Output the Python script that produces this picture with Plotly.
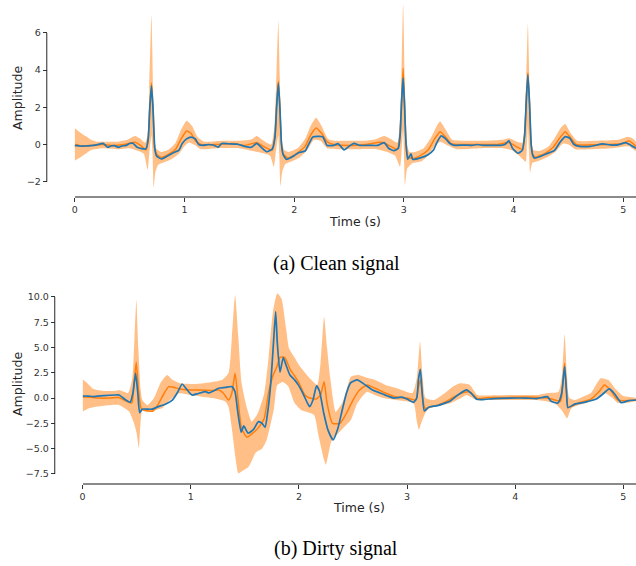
import plotly.graph_objects as go

# ---------------- (a) Clean signal ----------------
T_BLUE_A = [0.00, 0.05, 0.10, 0.15, 0.20, 0.26, 0.30, 0.33, 0.36, 0.40, 0.43, 0.47, 0.50, 0.53, 0.57, 0.61, 0.65,
            0.67, 0.685, 0.70, 0.715, 0.73, 0.745, 0.79, 0.85, 0.90, 0.95, 0.98, 1.02, 1.06, 1.10, 1.13, 1.17,
            1.22, 1.26, 1.31, 1.34, 1.40, 1.48, 1.55, 1.61, 1.66, 1.70, 1.75, 1.80, 1.825, 1.84, 1.856, 1.87,
            1.885, 1.90, 1.93, 2.00, 2.04, 2.10, 2.14, 2.17, 2.26, 2.30, 2.36, 2.40, 2.455, 2.50, 2.545, 2.60,
            2.70, 2.76, 2.82, 2.86, 2.91, 2.95, 2.965, 2.98, 2.993, 3.005, 3.02, 3.035, 3.065, 3.08, 3.15, 3.22,
            3.27, 3.30, 3.34, 3.38, 3.42, 3.46, 3.55, 3.62, 3.67, 3.72, 3.80, 3.88, 3.92, 3.957, 3.99, 4.04,
            4.08, 4.10, 4.115, 4.13, 4.145, 4.16, 4.175, 4.19, 4.24, 4.30, 4.37, 4.42, 4.47, 4.51, 4.55, 4.60,
            4.70, 4.81, 4.88, 4.95, 5.02, 5.07, 5.115]
BLUE_A = [-0.05, -0.08, -0.08, -0.06, -0.02, 0.06, -0.15, -0.08, -0.06, -0.15, -0.08, -0.05, 0.05, 0.07, -0.15,
          -0.22, -0.22, 0.3, 2.0, 3.15, 1.8, -0.2, -0.6, -0.78, -0.6, -0.45, -0.3, 0.05, 0.3, 0.4, 0.3, 0.0,
          -0.05, 0.0, -0.03, -0.14, 0.05, 0.04, 0.02, -0.1, -0.15, 0.06, -0.15, -0.39, -0.25, 0.4, 2.0, 3.29,
          2.0, 0.0, -0.55, -0.8, -0.6, -0.44, -0.35, 0.1, 0.4, 0.42, -0.05, -0.05, 0.05, -0.29, -0.1, 0.06,
          -0.05, -0.05, -0.05, 0.1, -0.2, -0.33, -0.2, 0.5, 2.4, 3.57, 2.2, 0.0, -0.8, -0.5, -0.8, -0.72,
          -0.55, -0.3, 0.1, 0.46, 0.3, 0.05, -0.05, -0.03, -0.05, 0.0, -0.05, -0.05, -0.05, 0.0, 0.2, -0.2,
          -0.47, -0.3, 0.5, 2.3, 3.74, 2.2, 0.0, -0.6, -0.74, -0.65, -0.5, -0.33, 0.1, 0.42, 0.35, 0.0, -0.1,
          -0.1, 0.03, -0.02, -0.02, 0.1, -0.05, -0.2]

T_MEAN_A = [0.00, 0.02, 0.05, 0.15, 0.25, 0.35, 0.45, 0.55, 0.60, 0.65, 0.67, 0.685, 0.70, 0.715, 0.73, 0.75,
            0.79, 0.85, 0.92, 0.97, 1.02, 1.06, 1.10, 1.15, 1.30, 1.45, 1.55, 1.66, 1.72, 1.80, 1.825, 1.84,
            1.856, 1.87, 1.885, 1.90, 1.94, 2.02, 2.10, 2.15, 2.20, 2.25, 2.30, 2.36, 2.50, 2.65, 2.80, 2.88,
            2.94, 2.965, 2.98, 2.993, 3.005, 3.02, 3.035, 3.08, 3.15, 3.22, 3.28, 3.33, 3.38, 3.43, 3.50, 3.70,
            3.85, 3.96, 4.02, 4.08, 4.10, 4.115, 4.13, 4.145, 4.16, 4.175, 4.20, 4.28, 4.36, 4.42, 4.47, 4.52,
            4.57, 4.70, 4.85, 5.00, 5.05, 5.115]
MEAN_A = [-0.1, 0.0, -0.08, -0.05, 0.0, -0.05, 0.0, 0.12, -0.05, -0.3, 0.3, 2.0, 3.3, 1.8, -0.2, -0.55, -0.7,
          -0.55, -0.25, 0.3, 0.73, 0.6, 0.2, 0.0, 0.0, 0.05, -0.05, 0.1, -0.1, -0.3, 0.4, 2.0, 3.4, 2.0, 0.0,
          -0.5, -0.72, -0.5, -0.1, 0.5, 0.89, 0.6, 0.15, 0.0, -0.05, 0.0, 0.12, -0.1, -0.25, 0.5, 2.5, 4.1,
          2.4, 0.0, -0.65, -0.75, -0.6, -0.3, 0.3, 0.69, 0.4, 0.05, 0.0, 0.0, 0.0, 0.1, -0.1, -0.25, 0.5, 2.4,
          3.86, 2.2, 0.0, -0.55, -0.68, -0.5, -0.15, 0.35, 0.69, 0.35, 0.0, -0.02, 0.0, 0.05, 0.2, -0.1]

T_UP_A = [0.00, 0.05, 0.10, 0.15, 0.20, 0.30, 0.40, 0.48, 0.55, 0.60, 0.64, 0.665, 0.68, 0.70, 0.715, 0.725,
          0.74, 0.79, 0.86, 0.92, 0.97, 1.02, 1.07, 1.12, 1.18, 1.35, 1.50, 1.60, 1.66, 1.72, 1.79, 1.82, 1.84,
          1.856, 1.87, 1.885, 1.91, 1.95, 2.03, 2.10, 2.15, 2.20, 2.25, 2.31, 2.37, 2.50, 2.65, 2.75, 2.82,
          2.88, 2.94, 2.97, 2.993, 3.01, 3.025, 3.05, 3.10, 3.18, 3.25, 3.30, 3.33, 3.38, 3.44, 3.55, 3.75,
          3.90, 3.96, 4.03, 4.08, 4.11, 4.13, 4.145, 4.16, 4.18, 4.24, 4.32, 4.38, 4.43, 4.47, 4.52, 4.58,
          4.75, 4.95, 5.04, 5.08, 5.115]
UP_A = [0.88, 0.65, 0.45, 0.25, 0.15, 0.15, 0.15, 0.25, 0.45, 0.3, 0.1, 0.5, 3.0, 6.96, 3.0, 0.5, -0.2, -0.4,
        -0.25, 0.1, 0.8, 1.28, 1.0, 0.4, 0.15, 0.2, 0.2, 0.25, 0.45, 0.2, 0.0, 1.0, 4.0, 6.64, 3.5, 0.3, -0.3,
        -0.4, -0.2, 0.3, 1.0, 1.44, 1.0, 0.3, 0.2, 0.2, 0.2, 0.3, 0.46, 0.3, 0.1, 2.0, 7.54, 3.0, 0.2, -0.4,
        -0.4, -0.2, 0.4, 1.0, 1.23, 0.8, 0.25, 0.2, 0.2, 0.25, 0.33, 0.15, 0.1, 2.5, 6.48, 3.0, 0.3, -0.3,
        -0.35, -0.1, 0.4, 0.9, 1.1, 0.6, 0.2, 0.2, 0.25, 0.42, 0.35, 0.15]

T_LO_A = [0.00, 0.05, 0.10, 0.15, 0.25, 0.40, 0.50, 0.58, 0.63, 0.665, 0.68, 0.70, 0.71, 0.72, 0.735, 0.76,
          0.80, 0.88, 0.95, 1.00, 1.04, 1.10, 1.15, 1.30, 1.50, 1.62, 1.70, 1.78, 1.815, 1.835, 1.856, 1.865,
          1.875, 1.89, 1.92, 1.98, 2.05, 2.12, 2.18, 2.24, 2.30, 2.40, 2.60, 2.75, 2.85, 2.92, 2.965, 2.98,
          2.993, 3.00, 3.01, 3.03, 3.08, 3.16, 3.22, 3.28, 3.33, 3.40, 3.48, 3.70, 3.90, 3.98, 4.05, 4.11,
          4.12, 4.13, 4.14, 4.15, 4.17, 4.22, 4.30, 4.38, 4.45, 4.50, 4.56, 4.70, 4.90, 5.05, 5.115]
LO_A = [-0.87, -0.7, -0.5, -0.3, -0.2, -0.25, -0.2, -0.35, -0.5, -1.35, -0.5, 0.5, -0.5, -2.3, -1.5, -1.1,
        -1.0, -0.8, -0.5, -0.1, 0.1, -0.05, -0.25, -0.2, -0.2, -0.35, -0.45, -0.6, -1.19, -0.3, 0.5, -0.5,
        -2.23, -1.5, -1.05, -0.9, -0.7, -0.3, 0.25, 0.2, -0.2, -0.25, -0.25, -0.25, -0.4, -0.6, -1.2, -0.3,
        0.8, -0.3, -2.18, -1.3, -1.0, -0.9, -0.6, -0.1, 0.15, -0.05, -0.25, -0.2, -0.2, -0.3, -0.6, -0.92,
        -0.2, 1.0, -0.3, -1.52, -1.0, -0.9, -0.7, -0.4, 0.05, 0.0, -0.25, -0.25, -0.2, -0.1, -0.35]

# ---------------- (b) Dirty signal ----------------
T_BLUE_B = [0.00, 0.05, 0.10, 0.20, 0.30, 0.337, 0.40, 0.44, 0.465, 0.49, 0.51, 0.527, 0.55, 0.64, 0.70, 0.77,
            0.83, 0.88, 0.92, 0.96, 1.01, 1.07, 1.135, 1.17, 1.21, 1.258, 1.32, 1.38, 1.41, 1.43, 1.466, 1.49,
            1.53, 1.58, 1.626, 1.66, 1.687, 1.71, 1.74, 1.765, 1.785, 1.80, 1.825, 1.855, 1.88, 1.917, 1.96,
            1.994, 2.04, 2.08, 2.10, 2.13, 2.163, 2.19, 2.23, 2.27, 2.316, 2.36, 2.40, 2.44, 2.478, 2.54, 2.60,
            2.68, 2.75, 2.82, 2.877, 2.92, 2.954, 3.00, 3.06, 3.09, 3.105, 3.123, 3.14, 3.16, 3.20, 3.28, 3.35,
            3.40, 3.47, 3.55, 3.60, 3.644, 3.70, 3.80, 3.95, 4.10, 4.20, 4.297, 4.33, 4.395, 4.43, 4.457, 4.475,
            4.487, 4.55, 4.65, 4.75, 4.80, 4.87, 4.92, 4.98, 5.05, 5.117]
BLUE_B = [0.2, 0.2, 0.15, 0.25, 0.3, 0.3, -0.2, -0.42, 0.5, 2.45, 0.5, -1.44, -1.1, -1.1, -0.85, -0.58, -0.2,
          0.6, 1.39, 0.9, 0.3, 0.45, 0.63, 0.5, 0.7, 0.97, 1.05, 1.13, 0.6, -1.0, -3.38, -2.76, -3.48, -3.1,
          -2.33, -2.5, -2.89, -1.5, 1.5, 5.5, 8.55, 5.5, 2.55, 4.0, 3.3, 2.28, 1.8, 1.3, 0.4, -0.52, -0.85,
          -0.2, 1.2, 0.7, -1.5, -3.2, -4.14, -3.0, -1.2, 0.5, 1.5, 1.79, 1.4, 0.8, 0.5, 0.2, 0.0, 0.05, 0.1,
          -0.1, -0.42, 0.0, 1.8, 2.85, 0.5, -1.28, -0.91, -0.75, -0.5, -0.29, 0.3, 0.8, 0.4, -0.12, -0.15,
          -0.05, 0.0, 0.0, -0.05, 0.14, -0.3, -0.5, 0.5, 3.1, 0.5, -0.95, -0.6, -0.4, -0.1, 0.3, 0.9, 0.4,
          -0.45, -0.25, -0.19]

T_MEAN_B = [0.00, 0.05, 0.15, 0.25, 0.337, 0.40, 0.455, 0.475, 0.496, 0.515, 0.54, 0.57, 0.65, 0.70, 0.75,
            0.797, 0.90, 1.00, 1.10, 1.20, 1.26, 1.30, 1.35, 1.38, 1.41, 1.44, 1.47, 1.52, 1.57, 1.62, 1.68,
            1.718, 1.76, 1.80, 1.825, 1.87, 1.92, 1.96, 2.00, 2.055, 2.10, 2.16, 2.20, 2.233, 2.26, 2.31, 2.38,
            2.44, 2.50, 2.56, 2.63, 2.70, 2.80, 2.90, 3.00, 3.08, 3.10, 3.123, 3.145, 3.165, 3.25, 3.35, 3.45,
            3.52, 3.58, 3.65, 3.75, 3.90, 4.10, 4.30, 4.42, 4.44, 4.457, 4.475, 4.49, 4.58, 4.70, 4.78, 4.825,
            4.88, 4.95, 5.117]
MEAN_B = [0.1, 0.1, 0.0, 0.0, 0.05, -0.3, -0.5, 1.5, 3.54, 1.0, -1.0, -1.2, -1.28, -0.6, 0.4, 1.13, 0.9, 0.8,
          0.8, 0.75, 0.8, 0.5, -0.19, 0.5, 2.45, -0.5, -3.0, -3.88, -3.5, -3.0, -2.0, 0.47, 2.2, 3.2, 4.03, 4.0,
          2.8, 2.2, 1.5, 0.3, 0.0, -0.1, 0.3, 1.62, -0.5, -2.5, -2.5, -1.5, -0.2, 0.8, 1.3, 1.0, 0.5, 0.1, 0.0,
          -0.2, 0.8, 1.8, 0.0, -1.0, -0.8, -0.4, 0.2, 0.55, 0.6, -0.05, 0.05, 0.05, 0.1, 0.0, -0.3, 1.5, 3.44,
          0.5, -0.9, -0.5, -0.1, 0.7, 1.3, 0.8, -0.2, -0.2]

T_UP_B = [0.00, 0.05, 0.10, 0.20, 0.30, 0.337, 0.42, 0.46, 0.48, 0.497, 0.515, 0.535, 0.552, 0.60, 0.66, 0.72,
          0.782, 0.83, 0.90, 1.04, 1.20, 1.29, 1.35, 1.38, 1.41, 1.44, 1.47, 1.52, 1.564, 1.62, 1.68, 1.72,
          1.76, 1.80, 1.84, 1.88, 1.908, 1.96, 2.00, 2.10, 2.17, 2.20, 2.233, 2.26, 2.29, 2.34, 2.40, 2.44,
          2.48, 2.55, 2.63, 2.70, 2.80, 2.90, 3.05, 3.09, 3.12, 3.145, 3.17, 3.25, 3.35, 3.42, 3.49, 3.58,
          3.65, 3.75, 4.00, 4.20, 4.30, 4.40, 4.43, 4.457, 4.48, 4.50, 4.55, 4.62, 4.70, 4.79, 4.86, 4.92,
          5.00, 5.117]
UP_B = [1.86, 1.4, 0.9, 0.7, 0.7, 0.8, 0.5, 2.0, 6.0, 9.7, 5.0, 1.0, -0.19, -0.7, 0.0, 1.5, 2.28, 1.8, 1.46,
        1.39, 1.6, 1.79, 2.5, 6.0, 10.2, 6.0, 1.5, -1.0, -2.33, -1.5, 0.5, 4.0, 8.5, 10.36, 9.8, 7.0, 4.92,
        4.0, 3.27, 1.96, 1.3, 3.5, 8.05, 5.0, 2.0, -1.37, -0.5, 0.8, 2.1, 2.28, 2.0, 1.8, 1.3, 1.0, 0.5, 2.0,
        5.58, 2.0, 0.0, -0.2, 0.5, 1.1, 1.46, 1.3, 0.3, 0.25, 0.3, 0.3, 0.5, 0.6, 2.0, 6.3, 2.0, 0.0, -0.2,
        0.1, 0.5, 1.96, 1.8, 1.0, 0.2, 0.0]

T_LO_B = [0.00, 0.06, 0.12, 0.20, 0.337, 0.43, 0.475, 0.50, 0.52, 0.535, 0.55, 0.62, 0.70, 0.736, 0.80, 0.89,
          1.00, 1.10, 1.20, 1.32, 1.35, 1.38, 1.41, 1.44, 1.48, 1.535, 1.56, 1.60, 1.66, 1.70, 1.74, 1.77,
          1.80, 1.85, 1.90, 1.96, 2.02, 2.14, 2.18, 2.23, 2.25, 2.30, 2.38, 2.48, 2.54, 2.63, 2.70, 2.78,
          2.90, 3.06, 3.09, 3.11, 3.13, 3.16, 3.20, 3.30, 3.40, 3.50, 3.55, 3.64, 3.75, 4.00, 4.20, 4.36,
          4.43, 4.48, 4.52, 4.65, 4.75, 4.83, 4.90, 4.95, 5.117]
LO_B = [-1.34, -1.0, -0.85, -0.75, -0.68, -1.34, -2.5, -3.5, -4.97, -2.5, -1.3, -1.35, -1.1, -1.0, -0.3, 0.47,
        0.3, 0.14, 0.0, -0.35, -0.9, -3.0, -5.6, -7.44, -7.2, -6.8, -6.3, -5.4, -5.0, -4.2, -2.5, -1.0, 1.3,
        1.6, 1.2, -0.5, -1.18, -1.67, -3.65, -6.0, -6.6, -4.3, -3.3, -2.17, -0.52, 0.63, 0.3, 0.0, -0.2, -0.52,
        -2.3, -3.15, -2.5, -1.67, -1.0, -0.75, -0.52, 0.0, 0.3, -0.19, -0.2, -0.2, -0.2, -0.5, -1.2, -2.0,
        -1.0, -0.5, -0.1, 0.47, 0.0, -0.5, -0.3]

TICKS_Y_A = [-2, 0, 2, 4, 6]
TICKS_Y_B = [-7.5, -5.0, -2.5, 0.0, 2.5, 5.0, 7.5, 10.0]
TICKS_X = [0, 1, 2, 3, 4, 5]
CAPTIONS = ["(a) Clean signal", "(b) Dirty signal"]
X_TITLE = "Time (s)"
Y_TITLE = "Amplitude"

W, H = 636, 566
BLUE = "#1f77b4"
ORANGE = "#ff7f0e"
BAND = "rgba(255,127,14,0.5)"
TICKFONT = dict(family="DejaVu Sans", size=9.5, color="#333333")
SMOOTH = 0.5

fig = go.Figure()


def add_panel(tu, up, tl, lo, tm, mean, tb, blue, xa, ya):
    fig.add_trace(go.Scatter(x=tu + tl[::-1], y=up + lo[::-1], fill="toself", fillcolor=BAND,
                             line=dict(width=0, shape="spline", smoothing=SMOOTH), mode="lines",
                             hoverinfo="skip", showlegend=False, xaxis=xa, yaxis=ya))
    fig.add_trace(go.Scatter(x=tm, y=mean, mode="lines",
                             line=dict(color=ORANGE, width=1.5, shape="spline", smoothing=SMOOTH),
                             showlegend=False, xaxis=xa, yaxis=ya))
    fig.add_trace(go.Scatter(x=tb, y=blue, mode="lines",
                             line=dict(color=BLUE, width=1.7, shape="spline", smoothing=SMOOTH),
                             showlegend=False, xaxis=xa, yaxis=ya))


add_panel(T_UP_A, UP_A, T_LO_A, LO_A, T_MEAN_A, MEAN_A, T_BLUE_A, BLUE_A, "x", "y")
add_panel(T_UP_B, UP_B, T_LO_B, LO_B, T_MEAN_B, MEAN_B, T_BLUE_B, BLUE_B, "x2", "y2")

xcommon = dict(showgrid=False, zeroline=False, showline=True, linecolor="#8a8a8a", linewidth=2,
               ticks="outside", ticklen=4, tickwidth=1, tickcolor="#333333", tickvals=TICKS_X,
               tickfont=TICKFONT)
ycommon = dict(showgrid=False, zeroline=False, showline=False, ticks="outside", ticklen=4, tickwidth=1,
               tickcolor="#333333", tickfont=TICKFONT, anchor="free")

fig.update_layout(
    width=W, height=H, margin=dict(l=0, r=0, t=0, b=0),
    paper_bgcolor="white", plot_bgcolor="white", hovermode=False,
    xaxis=dict(domain=[72 / W, 1], range=[0, 5.115], anchor="y", **xcommon),
    yaxis=dict(domain=[1 - 196 / H, 1], range=[-2.77, 7.77], tickvals=TICKS_Y_A, position=44 / W, **ycommon),
    xaxis2=dict(domain=[80 / W, 1], range=[0, 5.117], anchor="y2", **xcommon),
    yaxis2=dict(domain=[1 - 483 / H, 1 - 285 / H], range=[-8.40, 11.18], tickvals=TICKS_Y_B,
                tickformat=".1f", position=52 / W, **ycommon),
)

# trimmed left spines
fig.add_shape(type="line", xref="paper", yref="y", x0=44 / W, x1=44 / W, y0=TICKS_Y_A[0], y1=TICKS_Y_A[-1],
              line=dict(color="#262626", width=1))
fig.add_shape(type="line", xref="paper", yref="y2", x0=52 / W, x1=52 / W, y0=TICKS_Y_B[0], y1=TICKS_Y_B[-1],
              line=dict(color="#262626", width=1))

TITLEFONT = dict(family="DejaVu Sans", size=12.5, color="#262626")
ann = [
    dict(text=Y_TITLE, x=14 / W, y=1 - 98 / H, textangle=-90),
    dict(text=Y_TITLE, x=14 / W, y=1 - 384 / H, textangle=-90),
    dict(text=X_TITLE, x=354 / W, y=1 - 221 / H),
    dict(text=X_TITLE, x=358 / W, y=1 - 507 / H),
]
for a in ann:
    fig.add_annotation(xref="paper", yref="paper", showarrow=False, xanchor="center", yanchor="middle",
                       font=TITLEFONT, **a)
CAPFONT = dict(family="Liberation Serif", size=20, color="black")
fig.add_annotation(text=CAPTIONS[0], x=335 / W, y=1 - 263 / H, xref="paper", yref="paper", showarrow=False,
                   xanchor="center", yanchor="middle", font=CAPFONT)
fig.add_annotation(text=CAPTIONS[1], x=335 / W, y=1 - 548 / H, xref="paper", yref="paper", showarrow=False,
                   xanchor="center", yanchor="middle", font=CAPFONT)

fig.write_html("out.html", config={"displayModeBar": False, "staticPlot": True},
               post_script="document.body.style.margin='0';document.body.style.overflow='hidden';")
